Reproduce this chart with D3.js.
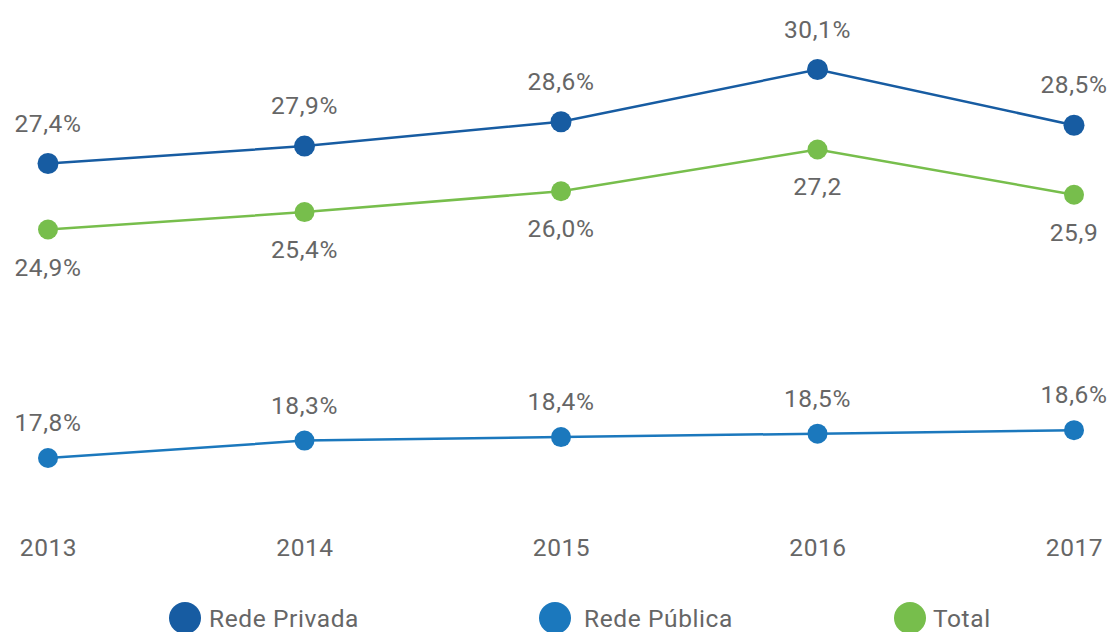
<html lang="pt">
<head>
<meta charset="UTF-8">
<title>Chart</title>
<style>
  body { margin: 0; background: #fff; }
  text { font-family: Roboto, "Noto Sans", sans-serif; fill: #666; letter-spacing: 0.6px; }
</style>
</head>
<body>
<script src="https://d3js.org/d3.v7.min.js"></script>
<div id="my_dataviz"></div>
<script>
  // data
  var years = ["2013", "2014", "2015", "2016", "2017"];
  var privada = [27.4, 27.9, 28.6, 30.1, 28.5];
  var publica = [17.8, 18.3, 18.4, 18.5, 18.6];
  var total = [24.9, 25.4, 26.0, 27.2, 25.9];
  var privadaLabels = ["27,4%", "27,9%", "28,6%", "30,1%", "28,5%"];
  var publicaLabels = ["17,8%", "18,3%", "18,4%", "18,5%", "18,6%"];
  var totalLabels = ["24,9%", "25,4%", "26,0%", "27,2", "25,9"];

  var width = 1110, height = 632;
  var fontSize = "24.5px";
  var svg = d3.select("#my_dataviz")
    .append("svg")
      .attr("width", width)
      .attr("height", height);

  var x = d3.scalePoint()
    .domain(years)
    .range([48, 1074]);

  // the picture draws each series on its own baseline (broken axis), same px per point
  var pxPerUnit = 34.8;
  function bandScale(v0, y0) {
    return d3.scaleLinear().domain([v0, v0 + 1]).range([y0, y0 - pxPerUnit]);
  }

  var series = [
    { name: "Rede Privada", values: privada, labels: privadaLabels, color: "#175ca2",
      y: bandScale(27.4, 163.5), r: 10.5, dy: -32 },
    { name: "Rede Pública", values: publica, labels: publicaLabels, color: "#1b78bd",
      y: bandScale(17.8, 458), r: 10, dy: -27 },
    { name: "Total", values: total, labels: totalLabels, color: "#77be4c",
      y: bandScale(24.9, 229.5), r: 10, dy: 46 }
  ];

  // x axis labels
  var xAxis = svg.append("g")
    .attr("transform", "translate(0,556)")
    .call(d3.axisBottom(x).tickSize(0).tickPadding(0));
  xAxis.select(".domain").remove();
  xAxis.selectAll("text")
    .attr("dy", 0)
    .style("font-size", fontSize)
    .style("font-family", "Roboto, 'Noto Sans', sans-serif")
    .style("fill", "#666");

  series.forEach(function(s) {
    var line = d3.line()
      .x(function(d, i) { return x(years[i]); })
      .y(function(d) { return s.y(d); });

    svg.append("path")
      .datum(s.values)
      .attr("d", line)
      .attr("fill", "none")
      .attr("stroke", s.color)
      .attr("stroke-width", 2.5);

    svg.selectAll(null)
      .data(s.values)
      .enter()
      .append("circle")
        .attr("cx", function(d, i) { return x(years[i]); })
        .attr("cy", function(d) { return s.y(d); })
        .attr("r", s.r)
        .attr("fill", s.color);

    svg.selectAll(null)
      .data(s.values)
      .enter()
      .append("text")
        .attr("x", function(d, i) { return x(years[i]); })
        .attr("y", function(d) { return s.y(d) + s.dy; })
        .attr("text-anchor", "middle")
        .style("font-size", fontSize)
        .text(function(d, i) { return s.labels[i]; });
  });

  // legend
  var legendX = [185, 555, 910];
  var legend = svg.selectAll("g.legend")
    .data(series)
    .enter()
    .append("g")
      .attr("class", "legend")
      .attr("transform", function(d, i) { return "translate(" + legendX[i] + ",618)"; });
  legend.append("circle")
    .attr("r", 16)
    .attr("fill", function(d) { return d.color; });
  legend.append("text")
    .attr("x", function(d, i) { return i == 2 ? 23 : (i == 1 ? 29 : 24); })
    .attr("y", 9)
    .style("font-size", fontSize)
    .text(function(d) { return d.name; });
</script>
</body>
</html>
